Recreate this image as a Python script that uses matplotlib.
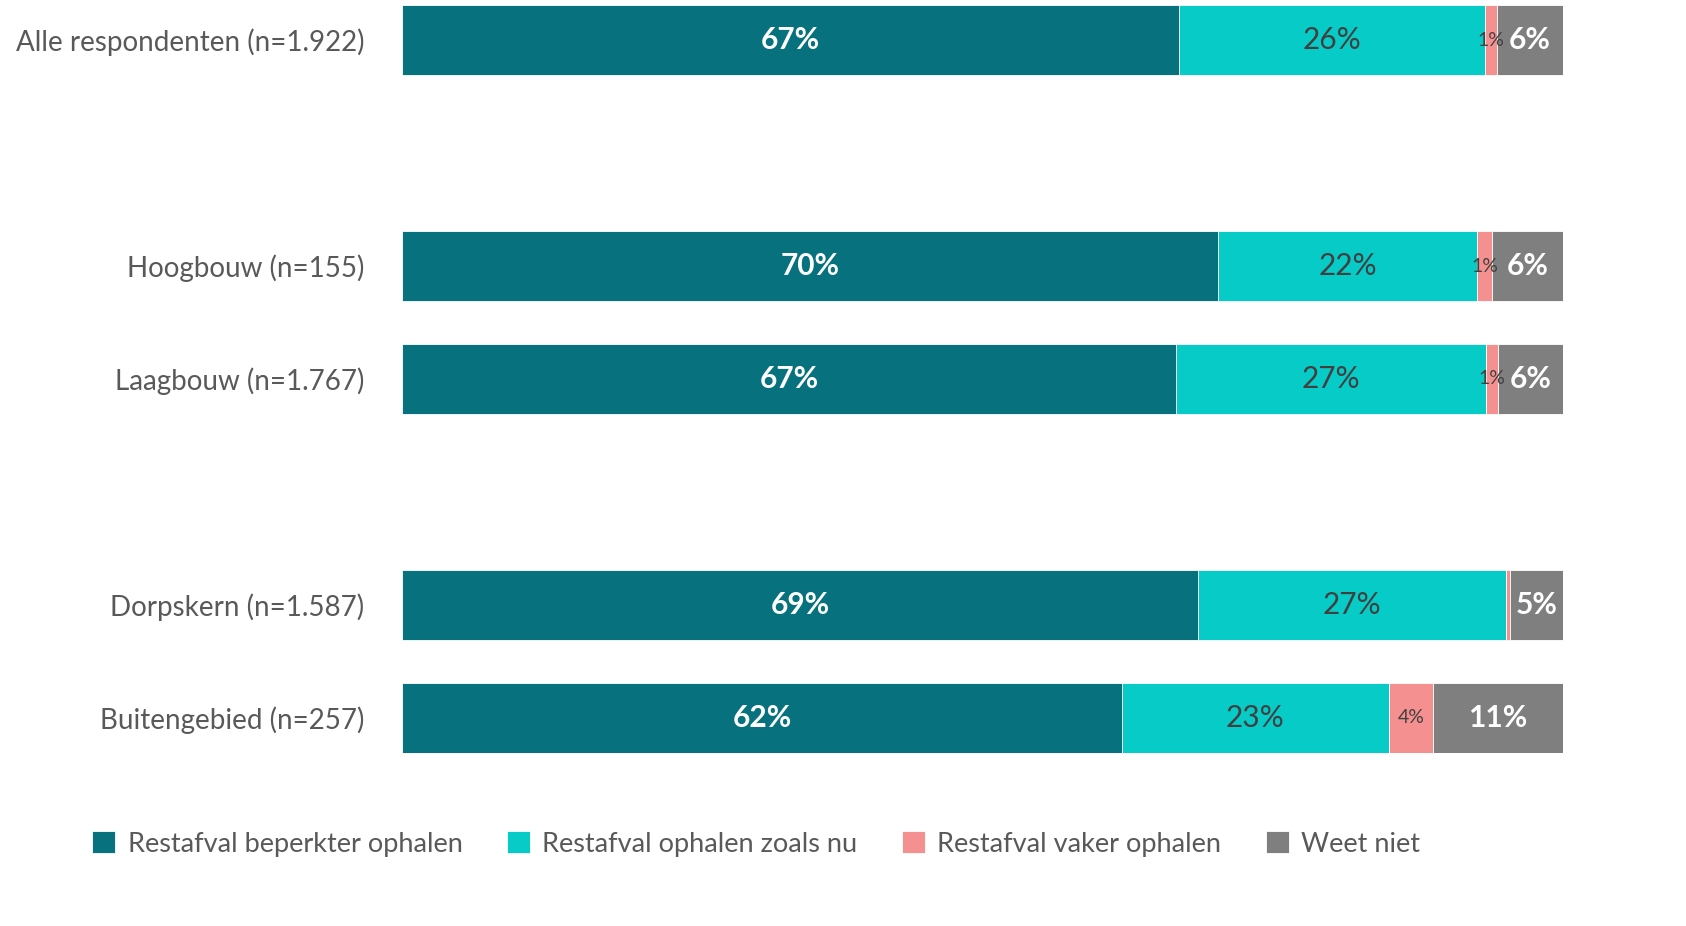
import matplotlib.pyplot as plt
import numpy as np

plt.rcParams['font.family'] = ['Lato', 'DejaVu Sans']

categories = ['Alle respondenten (n=1.922)', 'Hoogbouw (n=155)', 'Laagbouw (n=1.767)',
              'Dorpskern (n=1.587)', 'Buitengebied (n=257)']
ypos = [0, 2, 3, 5, 6]

series = ['Restafval beperkter ophalen', 'Restafval ophalen zoals nu',
          'Restafval vaker ophalen', 'Weet niet']
beperkter = [66.9, 70.3, 66.7, 68.6, 62.0]
zoals_nu = [26.4, 22.3, 26.7, 26.5, 23.0]
vaker = [1.0, 1.3, 1.0, 0.3, 3.8]
weet_niet = [5.7, 6.1, 5.6, 4.6, 11.2]

labels_beperkter = ['67%', '70%', '67%', '69%', '62%']
labels_zoals_nu = ['26%', '22%', '27%', '27%', '23%']
labels_vaker = ['1%', '1%', '1%', '', '4%']
labels_weet_niet = ['6%', '6%', '6%', '5%', '11%']

colors = ['#07717D', '#06CBC7', '#F4908F', '#7F7F7F']
txt_colors = ['white', '#404040', '#404040', 'white']
weights = ['bold', 'normal', 'normal', 'bold']
sizes = [21.5, 21.5, 14, 21.5]

fig = plt.figure(figsize=(16.86, 9.26), dpi=100)
ax = fig.add_axes([402 / 1686, 173 / 926, 1161 / 1686, 748 / 926])

data = [beperkter, zoals_nu, vaker, weet_niet]
labels = [labels_beperkter, labels_zoals_nu, labels_vaker, labels_weet_niet]
left = np.zeros(len(categories))
for i, vals in enumerate(data):
    vals = np.array(vals)
    bars = ax.barh(ypos, vals, left=left, height=0.62, color=colors[i],
                   label=series[i], edgecolor='white', linewidth=0.6)
    for j, b in enumerate(bars):
        if labels[i][j]:
            ax.text(left[j] + vals[j] / 2, ypos[j], labels[i][j], ha='center', va='center',
                    color=txt_colors[i], fontsize=sizes[i], fontweight=weights[i])
    left += vals

ax.set_xlim(0, 100)
ax.set_ylim(6.31, -0.31)
ax.set_yticks(ypos)
ax.set_yticklabels(categories, fontsize=20, color='#595959')
ax.tick_params(axis='y', length=0, pad=27)
ax.set_xticks([])
for s in ax.spines.values():
    s.set_visible(False)

fig.legend(loc='center left', bbox_to_anchor=(68 / 1686, 82 / 926), ncol=4, frameon=False,
           fontsize=19.5, labelcolor='#595959', handlelength=0.85, handleheight=0.85,
           handletextpad=0.45, columnspacing=1.65)

fig.savefig('out.png', dpi=100)
